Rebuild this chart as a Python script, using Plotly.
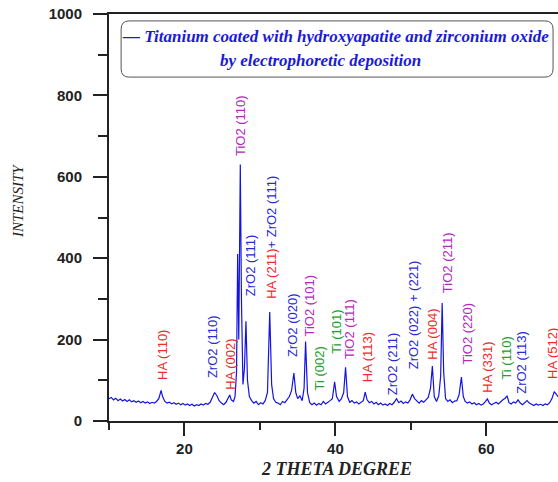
import plotly.graph_objects as go

two_theta = [
    10.0, 10.3, 10.6, 10.9, 11.2, 11.5, 11.8, 12.1, 12.4, 12.7, 13.0, 13.3, 13.6, 13.9,
    14.2, 14.5, 14.8, 15.1, 15.4, 15.7, 16.0, 16.3, 16.6, 16.9, 17.1, 17.4, 17.7, 18.0,
    18.3, 18.6, 18.9, 19.2, 19.5, 19.8, 20.1, 20.4, 20.7, 21.0, 21.3, 21.6, 21.9, 22.2,
    22.5, 22.8, 23.1, 23.4, 23.7, 24.0, 24.3, 24.6, 24.9, 25.2, 25.5, 25.8, 26.0, 26.2,
    26.5, 26.7, 26.9, 27.05, 27.2, 27.4, 27.55, 27.75, 27.95, 28.15, 28.35, 28.6, 28.9,
    29.2, 29.5, 29.8, 30.1, 30.4, 30.7, 31.0, 31.3, 31.55, 31.8, 32.1, 32.4, 32.7, 33.0,
    33.3, 33.6, 33.9, 34.2, 34.5, 34.75, 35.0, 35.3, 35.6, 35.85, 36.05, 36.3, 36.6,
    36.9, 37.2, 37.5, 37.8, 38.1, 38.4, 38.7, 39.0, 39.3, 39.6, 39.9, 40.15, 40.5, 40.8,
    41.1, 41.35, 41.6, 41.9, 42.2, 42.5, 42.8, 43.1, 43.4, 43.7, 43.95, 44.2, 44.5, 44.8,
    45.1, 45.4, 45.7, 46.0, 46.3, 46.6, 46.9, 47.2, 47.5, 47.8, 48.1, 48.4, 48.7, 49.0,
    49.3, 49.6, 49.9, 50.2, 50.5, 50.8, 51.1, 51.4, 51.7, 52.0, 52.3, 52.6, 52.85, 53.1,
    53.4, 53.7, 53.95, 54.15, 54.35, 54.6, 54.9, 55.2, 55.5, 55.8, 56.1, 56.4, 56.7,
    56.95, 57.2, 57.5, 57.8, 58.1, 58.4, 58.7, 59.0, 59.3, 59.6, 59.9, 60.15, 60.4, 60.7,
    61.0, 61.3, 61.6, 61.9, 62.2, 62.5, 62.75, 63.0, 63.3, 63.6, 63.9, 64.2, 64.5, 64.8,
    65.1, 65.4, 65.7, 66.0, 66.3, 66.6, 66.9, 67.2, 67.5, 67.8, 68.1, 68.4, 68.7, 69.0,
    69.3, 69.6, 70.0,
]
intensity = [
    55, 58, 52, 56, 50, 54, 49, 53, 48, 52, 47, 50, 46, 49,
    45, 48, 44, 47, 43, 46, 44, 48, 55, 75, 60, 48, 44, 46,
    42, 45, 41, 44, 40, 43, 39, 42, 38, 41, 37, 40, 38, 42,
    39, 43, 41, 46, 58, 70, 62, 50, 44, 40, 46, 55, 64, 52,
    48, 60, 120, 410, 200, 630, 300, 90, 130, 245, 100, 60, 50,
    44, 48, 40, 45, 42, 50, 70, 268, 90, 55, 46, 44, 40, 48,
    45, 52, 60, 75, 118, 70, 55, 62, 50, 80, 195, 70, 45,
    40, 44, 39, 43, 40, 48, 42, 45, 50, 55, 96, 60, 48, 55,
    70, 132, 60, 46, 50, 44, 47, 42, 45, 50, 71, 52, 45, 48,
    42, 46, 40, 44, 39, 42, 38, 43, 40, 46, 55, 45, 49, 43,
    47, 44, 52, 66, 55, 48, 44, 50, 46, 52, 58, 80, 135, 60,
    48, 62, 110, 290, 120, 55, 48, 52, 45, 49, 50, 65, 108,
    60, 48, 44, 47, 42, 45, 40, 43, 39, 42, 48, 54, 44, 40,
    43, 46, 42, 48, 52, 56, 62, 45, 42, 47, 44, 52, 44, 40,
    46, 50, 44, 40, 38, 42, 39, 41, 38, 42, 40, 45, 55, 72,
    65, 58, 55,
]

# peak labels
label_texts = [
    "HA (110)", "ZrO2 (110)", "HA (002)", "TiO2 (110)", "ZrO2 (111)",
    "HA (211)|+ ZrO2 (111)", "ZrO2 (020)", "TiO2 (101)", "Ti (002)", "Ti (101)",
    "TiO2 (111)", "HA (113)", "ZrO2 (211)", "ZrO2 (022) + (221)", "HA (004)",
    "TiO2 (211)", "TiO2 (220)", "HA (331)", "Ti (110)", "ZrO2 (113)", "HA (512)",
]
label_x = [17.0, 23.8, 26.0, 27.35, 28.7, 31.6, 34.4, 36.6, 37.9, 40.2, 41.8, 44.2,
           47.5, 50.3, 52.9, 54.8, 57.5, 60.2, 62.7, 64.7, 68.7]
label_y = [162, 182, 140, 727, 383, 450, 236, 283, 128, 219, 226, 157,
           142, 260, 214, 388, 216, 133, 155, 145, 167]
label_phase = ["HA", "ZrO2", "HA", "TiO2", "ZrO2", "HA", "ZrO2", "TiO2", "Ti", "Ti",
               "TiO2", "HA", "ZrO2", "ZrO2", "HA", "TiO2", "TiO2", "HA", "Ti", "ZrO2", "HA"]

phase_colors = {"HA": "#f02a2a", "ZrO2": "#2a2ad2", "TiO2": "#b428c0", "Ti": "#22a02a"}

fig = go.Figure()
fig.add_trace(go.Scatter(x=two_theta, y=intensity, mode="lines",
                         line=dict(color="#1414e0", width=1.2), showlegend=False,
                         hoverinfo="skip"))

for t, x, y, ph in zip(label_texts, label_x, label_y, label_phase):
    if "|" in t:
        a, b = t.split("|")
        txt = f"<span style='color:{phase_colors['HA']}'>{a}</span><span style='color:{phase_colors['ZrO2']}'>{b}</span>"
    else:
        txt = t
    fig.add_annotation(x=x, y=y, xref="x", yref="y", text=txt, showarrow=False,
                       textangle=-90, xanchor="center", yanchor="middle",
                       font=dict(family="Liberation Sans, Arial", size=13,
                                 color=phase_colors[ph]))

# legend box (rounded)
x0, x1, y0, y1, r = 0.027, 0.989, 0.845, 0.983, 0.018
ry = r * 449 / 407
path = (f"M {x0 + r},{y0} L {x1 - r},{y0} Q {x1},{y0} {x1},{y0 + ry} "
        f"L {x1},{y1 - ry} Q {x1},{y1} {x1 - r},{y1} L {x0 + r},{y1} "
        f"Q {x0},{y1} {x0},{y1 - ry} L {x0},{y0 + ry} Q {x0},{y0} {x0 + r},{y0} Z")
fig.add_shape(type="path", path=path, xref="paper", yref="paper",
              line=dict(color="#555555", width=1), fillcolor="white")
fig.add_annotation(x=0.504, y=0.944, xref="paper", yref="paper", showarrow=False,
                   text="— Titanium coated with hydroxyapatite and zirconium oxide",
                   xanchor="center", yanchor="middle",
                   font=dict(family="Liberation Serif, Times New Roman", size=17,
                             color="#1a1ad8", weight="bold", style="italic"))
fig.add_annotation(x=0.472, y=0.885, xref="paper", yref="paper", showarrow=False,
                   text="by electrophoretic deposition",
                   xanchor="center", yanchor="middle",
                   font=dict(family="Liberation Serif, Times New Roman", size=17,
                             color="#1a1ad8", weight="bold", style="italic"))

# axis titles
fig.add_annotation(x=0.506, y=-0.118, xref="paper", yref="paper", showarrow=False,
                   text="2 THETA DEGREE", xanchor="center", yanchor="middle",
                   font=dict(family="Liberation Serif, Times New Roman", size=18,
                             color="#222222", weight="bold", style="italic"))
fig.add_annotation(x=-0.203, y=0.54, xref="paper", yref="paper", showarrow=False,
                   text="INTENSITY", textangle=-90, xanchor="center", yanchor="middle",
                   font=dict(family="Liberation Serif, Times New Roman", size=15,
                             color="#222222", style="italic"))

tick_font = dict(family="Liberation Sans, Arial", size=15, color="#222222", weight="bold")
fig.update_xaxes(range=[10, 69.5], showgrid=False, zeroline=False,
                 showline=True, linecolor="#222222", linewidth=2, mirror=True,
                 ticks="outside", tickwidth=2, ticklen=13, tickcolor="#222222",
                 tickvals=[20, 40, 60], tickfont=tick_font,
                 minor=dict(tickvals=[10, 30, 50, 70], ticks="outside", ticklen=7,
                            tickwidth=2, tickcolor="#222222"))
fig.update_yaxes(range=[0, 1000], showgrid=False, zeroline=False,
                 showline=True, linecolor="#222222", linewidth=2,
                 ticks="outside", tickwidth=2, ticklen=14, tickcolor="#222222",
                 ticklabelstandoff=8,
                 tickvals=[0, 200, 400, 600, 800, 1000], tickfont=tick_font,
                 minor=dict(tickvals=[100, 300, 500, 700, 900], ticks="outside",
                            ticklen=9, tickwidth=2, tickcolor="#222222"))

fig.update_layout(width=558, height=482, margin=dict(l=109, r=0, t=14, b=61),
                  plot_bgcolor="white", paper_bgcolor="white", showlegend=False)

fig.write_html("out.html", config={"displayModeBar": False},
               post_script="document.body.style.margin='0';")
